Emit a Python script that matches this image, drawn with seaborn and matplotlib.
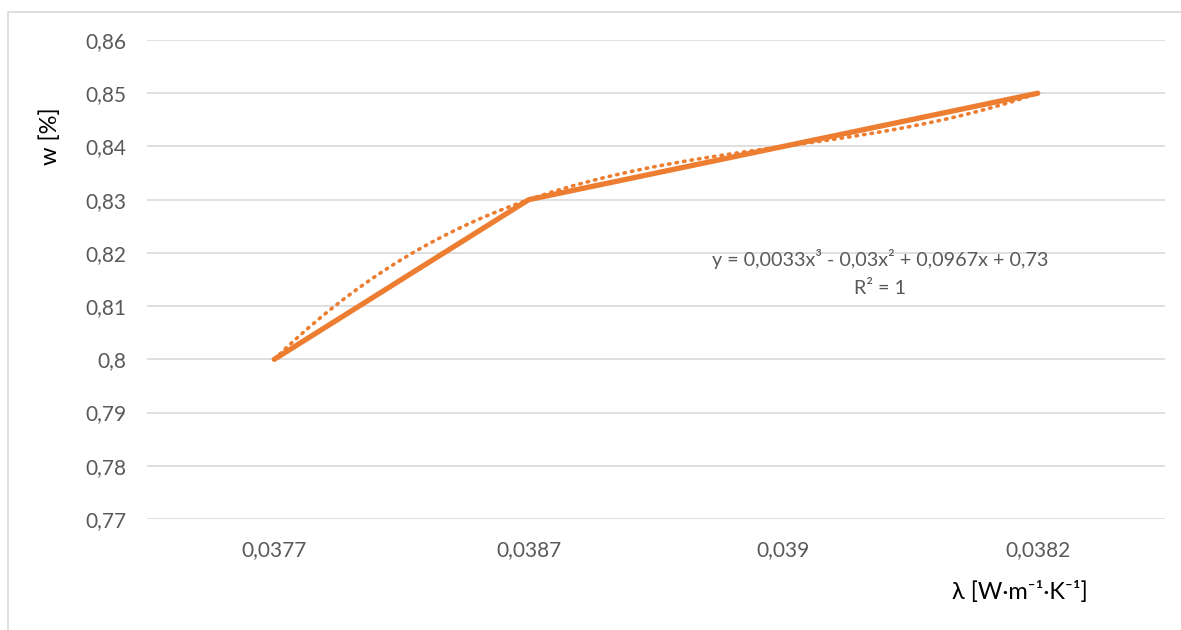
import matplotlib
matplotlib.use("Agg")
import matplotlib.pyplot as plt
import seaborn as sns
import numpy as np
import pandas as pd
from matplotlib.patches import Rectangle

# data
categories = ["0,0377", "0,0387", "0,039", "0,0382"]
w_values = [0.80, 0.83, 0.84, 0.85]
y_ticks = [0.77, 0.78, 0.79, 0.80, 0.81, 0.82, 0.83, 0.84, 0.85, 0.86]
y_tick_labels = ["0,77", "0,78", "0,79", "0,8", "0,81", "0,82", "0,83", "0,84", "0,85", "0,86"]
trend_text = "y = 0,0033x³ - 0,03x² + 0,0967x + 0,73\nR² = 1"

orange = "#ED7D31"
grey_txt = "#595959"

sns.set_style("white")
plt.rcParams["font.family"] = ["Lato", "DejaVu Sans"]

df = pd.DataFrame({"pos": np.arange(len(categories)), "w": w_values})

fig = plt.figure(figsize=(11.81, 6.30), dpi=100)
ax = fig.add_axes([147 / 1181, 1 - 519 / 630, (1165 - 147) / 1181, (519 - 40) / 630])

# excel-style polynomial trendline (order 3, x = 1..n)
xs = np.arange(1, len(w_values) + 1)
coef = np.polyfit(xs, w_values, 3)
xf = np.linspace(1, len(w_values), 200)
ax.plot(xf - 1, np.polyval(coef, xf), color=orange, lw=2.6, ls=(0, (0.4, 1.7)),
        dash_capstyle="round", zorder=3)

sns.lineplot(data=df, x="pos", y="w", ax=ax, color=orange, lw=3.8,
             solid_capstyle="round", zorder=4)

ax.set_xlim(-0.5, len(categories) - 0.5)
ax.set_ylim(0.77, 0.86)
ax.set_xticks(range(len(categories)))
ax.set_xticklabels(categories)
ax.set_yticks(y_ticks)
ax.set_yticklabels(y_tick_labels)
ax.tick_params(length=0, labelsize=15, labelcolor=grey_txt, pad=15)
ax.grid(axis="y", color="#D9D9D9", lw=1.2)
ax.set_axisbelow(True)
for s in ax.spines.values():
    s.set_visible(False)
ax.set_xlabel("")
ax.set_ylabel("")

fig.text(50 / 1181, 1 - 136 / 630, "w [%]", rotation=90, ha="center", va="center",
         fontsize=17, color="black")
fig.text(1020 / 1181, 1 - 592 / 630, "λ [W·m⁻¹·K⁻¹]", ha="center", va="center",
         fontsize=17, color="black")
ax.text(880 / 1181, 1 - 273 / 630, trend_text, transform=fig.transFigure,
        ha="center", va="center", fontsize=14.2, color=grey_txt, linespacing=1.75)

fig.patches.append(Rectangle((8 / 1181, -0.1), 1.2, 1 - 12 / 630 + 0.1,
                             transform=fig.transFigure, fill=False,
                             edgecolor="#D9D9D9", lw=1.2))

fig.savefig("out.png", dpi=100, facecolor="white")
